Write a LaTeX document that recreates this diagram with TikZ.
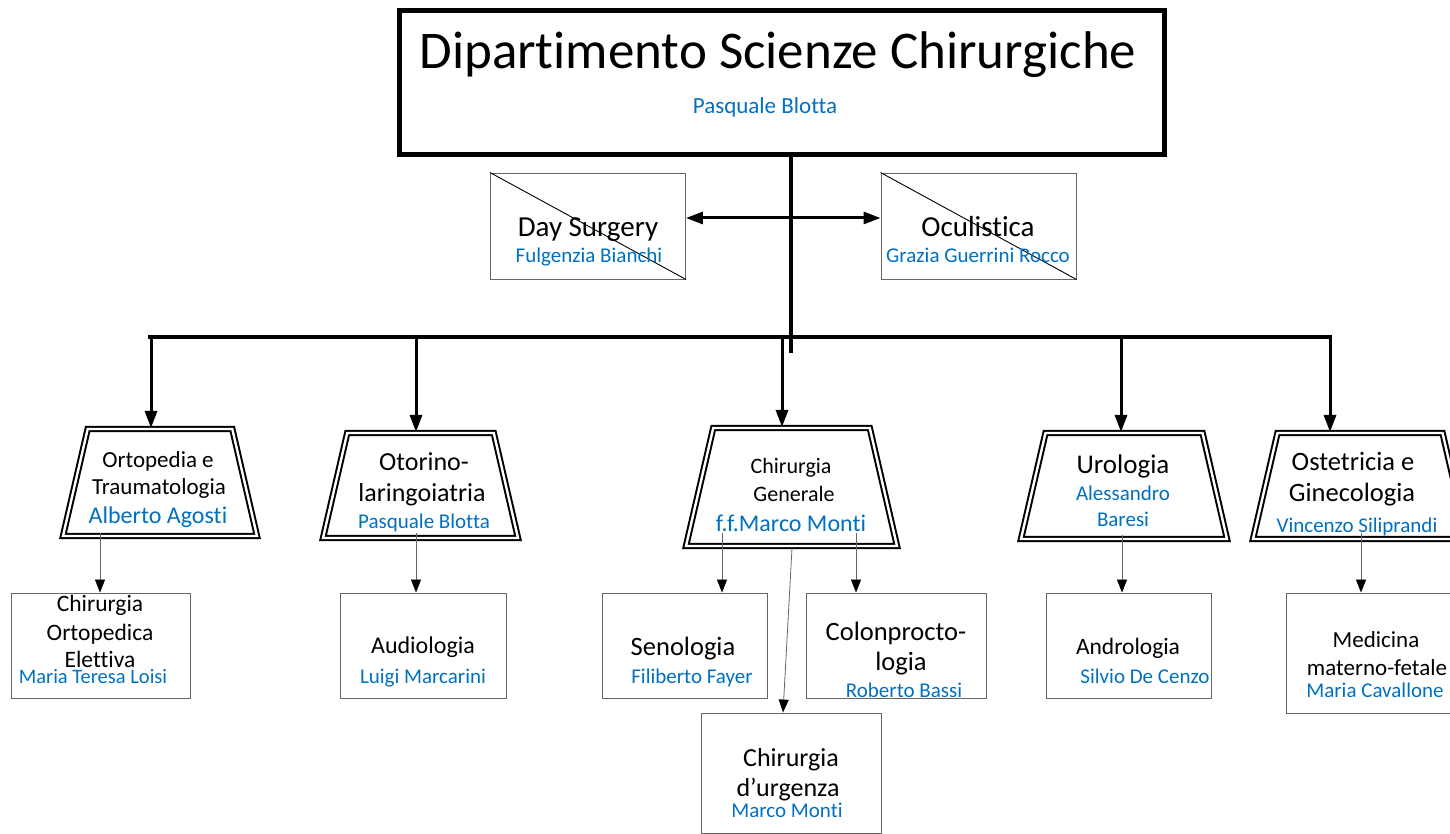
\documentclass[tikz,border=0pt]{standalone}
\usepackage{fontspec}
\setmainfont{Carlito}[Ligatures={NoCommon}]
\usetikzlibrary{shapes.geometric, arrows.meta}

\definecolor{namecol}{RGB}{0,112,192}
\newcommand{\fs}[1]{\fontsize{#1}{#1}\selectfont}

\tikzset{
  head/.style={draw, line width=5pt, minimum width=765pt, minimum height=144pt},
  staff/.style={draw=black!60, line width=0.9pt, minimum width=195pt, minimum height=106pt},
  unit/.style={trapezium, draw, double, double distance=2.4pt, line width=2pt,
    trapezium left angle=77, trapezium right angle=77, trapezium stretches body,
    inner xsep=0pt},
  sub/.style={draw=black!60, line width=0.9pt, inner sep=0pt},
  txt/.style={anchor=base, inner sep=0pt},
  who/.style={txt, text=namecol},
  bus/.style={line width=4.5pt},
  down/.style={line width=3pt, -{Triangle[length=17pt,width=12pt]}},
  link/.style={draw=black!60, line width=0.8pt, -{Triangle[length=13pt,width=10pt,color=black]}},
}

\begin{document}
\begin{tikzpicture}[x=1pt, y=-1pt]
\useasboundingbox (0,0) rectangle (1450,834);

% department
\node[head] (dep) at (782,82.5) {};
\node[txt, font=\fs{53}] (dep-t) at (778,69) {Dipartimento Scienze Chirurgiche};
\node[who, font=\fs{23}] (dep-n) at (765,114) {Pasquale Blotta};

% staff units
\node[staff] (ds) at (588,226) {};
\node[staff] (ocu) at (978.5,226) {};
\draw[line width=0.9pt] (ds.north west) -- (ds.south east);
\draw[line width=0.9pt] (ocu.north west) -- (ocu.south east);
\node[txt, font=\fs{29}] (ds-t) at (588,237) {Day Surgery};
\node[who, font=\fs{21}] (ds-n) at (589,262) {Fulgenzia Bianchi};
\node[txt, font=\fs{29}] (ocu-t) at (978,237) {Oculistica};
\node[who, font=\fs{21}] (ocu-n) at (978,262) {Grazia Guerrini Rocco};

% complex units
\node[unit, minimum width=194pt, inner ysep=53.5pt] (ort) at (160,482.5) {};
\node[unit, minimum width=195pt, inner ysep=52.5pt] (oto) at (420.5,485.5) {};
\node[unit, minimum width=211pt, inner ysep=59pt] (gen) at (791.5,487) {};
\node[unit, minimum width=206pt, inner ysep=53pt] (uro) at (1124,486) {};
\node[unit, minimum width=214pt, inner ysep=53pt] (ost) at (1360,486) {};

\node[txt, font=\fs{23}] (ort-t1) at (158,467) {Ortopedia e};
\node[txt, font=\fs{23}] (ort-t2) at (159,494) {Traumatologia};
\node[who, font=\fs{24}] (ort-n) at (158,523) {Alberto Agosti};
\node[txt, font=\fs{26}] (oto-t1) at (424,470) {Otorino-};
\node[txt, font=\fs{26}] (oto-t2) at (422,501) {laringoiatria};
\node[who, font=\fs{21}] (oto-n) at (424,528) {Pasquale Blotta};
\node[txt, font=\fs{22}] (gen-t1) at (791,473) {Chirurgia};
\node[txt, font=\fs{22}] (gen-t2) at (794,501) {Generale};
\node[who, font=\fs{24}] (gen-n) at (791,531) {f.f.Marco Monti};
\node[txt, font=\fs{27}] (uro-t) at (1123,473) {Urologia};
\node[who, font=\fs{21}] (uro-n1) at (1123,500) {Alessandro};
\node[who, font=\fs{21}] (uro-n2) at (1123,526) {Baresi};
\node[txt, font=\fs{26.5}] (ost-t1) at (1353,470) {Ostetricia e};
\node[txt, font=\fs{26.5}] (ost-t2) at (1352,501) {Ginecologia};
\node[who, font=\fs{21}] (ost-n) at (1357,532) {Vincenzo Siliprandi};

% simple units
\node[sub, minimum width=179pt, minimum height=105pt] (coe) at (100.5,645.5) {};
\node[sub, minimum width=166pt, minimum height=105pt] (aud) at (423,645.5) {};
\node[sub, minimum width=165pt, minimum height=105pt] (sen) at (684.5,645.5) {};
\node[sub, minimum width=180pt, minimum height=105pt] (col) at (896,645.5) {};
\node[sub, minimum width=180pt, minimum height=120pt] (urg) at (791,773) {};
\node[sub, minimum width=165pt, minimum height=105pt] (and) at (1128.5,645.5) {};
\node[sub, minimum width=180pt, minimum height=120pt] (med) at (1376,653) {};

\node[txt, font=\fs{23.5}] (coe-t1) at (100,611) {Chirurgia};
\node[txt, font=\fs{23.5}] (coe-t2) at (100,640) {Ortopedica};
\node[txt, font=\fs{23.5}] (coe-t3) at (100,667) {Elettiva};
\node[who, font=\fs{20.5}] (coe-n) at (93,683) {Maria Teresa Loisi};
\node[txt, font=\fs{24}] (aud-t) at (423,653) {Audiologia};
\node[who, font=\fs{21}] (aud-n) at (423,683) {Luigi Marcarini};
\node[txt, font=\fs{26.5}] (sen-t) at (683,655) {Senologia};
\node[who, font=\fs{21}] (sen-n) at (692,683) {Filiberto Fayer};
\node[txt, font=\fs{26.5}] (col-t1) at (896,640) {Colonprocto-};
\node[txt, font=\fs{26.5}] (col-t2) at (901,670) {logia};
\node[who, font=\fs{21}] (col-n) at (904,697) {Roberto Bassi};
\node[txt, font=\fs{26}] (urg-t1) at (791,766) {Chirurgia};
\node[txt, font=\fs{26}] (urg-t2) at (788,796) {d’urgenza};
\node[who, font=\fs{21}] (urg-n) at (787,817) {Marco Monti};
\node[txt, font=\fs{23.5}] (and-t) at (1128,654) {Andrologia};
\node[who, font=\fs{21}] (and-n) at (1145,683) {Silvio De Cenzo};
\node[txt, font=\fs{23}] (med-t1) at (1376,647) {Medicina};
\node[txt, font=\fs{23}] (med-t2) at (1377,675) {materno-fetale};
\node[who, font=\fs{21}] (med-n) at (1375,697) {Maria Cavallone};

% connectors
\coordinate (stem) at (791,353);
\coordinate (busl) at (148,337);
\coordinate (busr) at (1332,337);
\draw[bus] (stem |- dep.south) -- (stem);
\draw[bus] (busl) -- (busr);
\draw[line width=3pt, {Triangle[length=17pt,width=12pt]}-{Triangle[length=17pt,width=12pt]}]
  ([yshift=8pt]ds.east) -- ([yshift=8pt]ocu.west);

\coordinate (b1) at (151,337);
\coordinate (b2) at (416,337);
\coordinate (b3) at (782,337);
\coordinate (b4) at (1121,337);
\coordinate (b5) at (1330,337);
\draw[down] (b1) -- (b1 |- ort.north);
\draw[down] (b2) -- (b2 |- oto.north);
\draw[down] (b3) -- (b3 |- gen.north);
\draw[down] (b4) -- (b4 |- uro.north);
\draw[down] (b5) -- (b5 |- ost.north);

\coordinate (o1) at (100,533);
\coordinate (o2) at (416,533);
\coordinate (o3) at (722,533);
\coordinate (o4) at (856,533);
\coordinate (o5) at (792,548);
\coordinate (o6) at (1122,535);
\coordinate (o7) at (1361,533);
\draw[link] (o1) -- (o1 |- coe.north);
\draw[link] (o2) -- (o2 |- aud.north);
\draw[link] (o3) -- (o3 |- sen.north);
\draw[link] (o4) -- (o4 |- col.north);
\draw[link] (o5) -- ([xshift=-8pt]urg.north);
\draw[link] (o6) -- (o6 |- and.north);
\draw[link] (o7) -- (o7 |- med.north);
\end{tikzpicture}
\end{document}
